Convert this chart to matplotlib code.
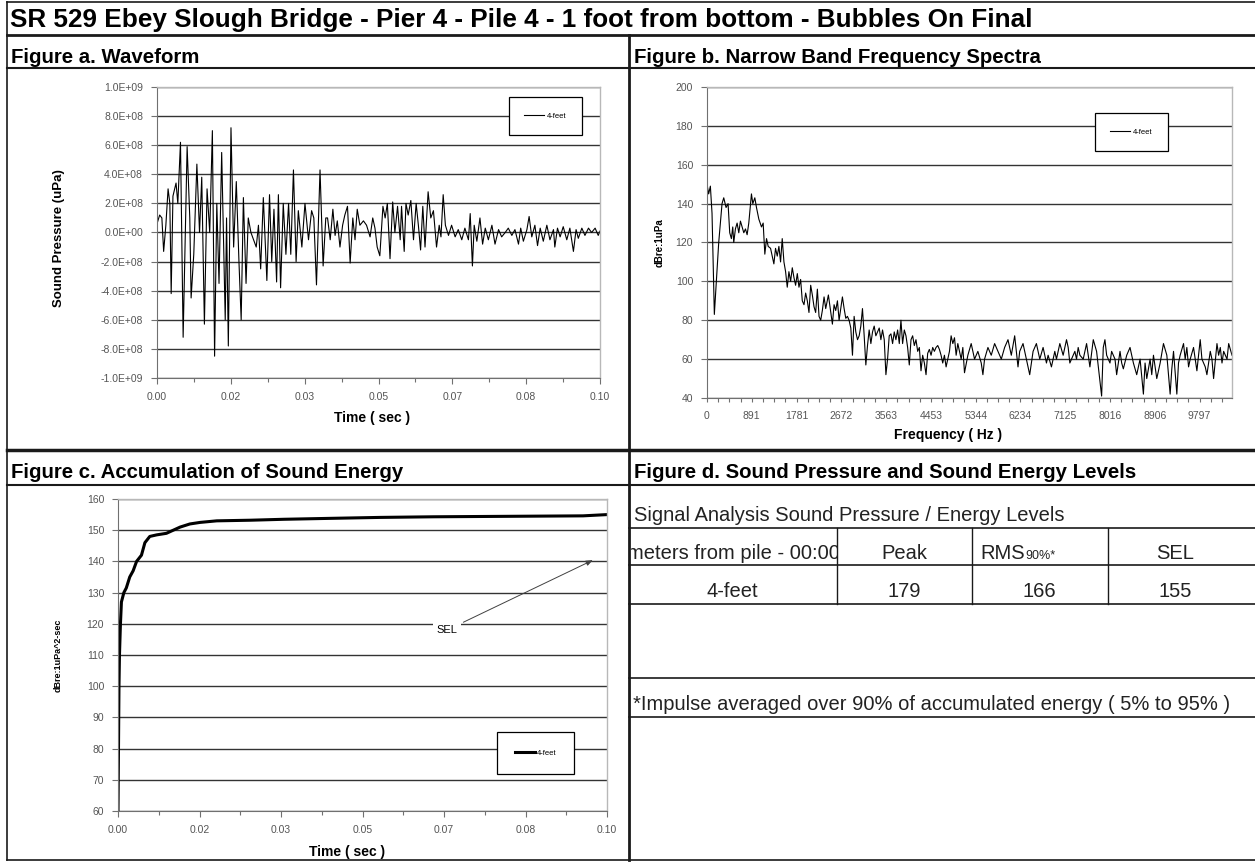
import numpy as np
import matplotlib
matplotlib.use('Agg')
import matplotlib.pyplot as plt
from matplotlib.ticker import FixedLocator, FuncFormatter
from matplotlib.transforms import Bbox

plt.rcParams['font.family'] = ['Liberation Sans', 'DejaVu Sans']

W, H = 1255, 863

title = 'SR 529 Ebey Slough Bridge - Pier 4 - Pile 4 - 1 foot from bottom - Bubbles On Final'
series_name = '4-feet'

# Figure a - waveform (time in s, pressure in 1E8 uPa)
time_a = [0.0000, 0.0006, 0.0011, 0.0015, 0.0020, 0.0025, 0.0029, 0.0032, 0.0036, 0.0043,
          0.0047, 0.0053, 0.0059, 0.0064, 0.0068, 0.0074, 0.0077, 0.0083, 0.0090, 0.0096,
          0.0101, 0.0107, 0.0113, 0.0119, 0.0125, 0.0130, 0.0135, 0.0140, 0.0146, 0.0154,
          0.0157, 0.0161, 0.0167, 0.0173, 0.0179, 0.0185, 0.0190, 0.0195, 0.0201, 0.0206,
          0.0212, 0.0218, 0.0224, 0.0229, 0.0234, 0.0240, 0.0248, 0.0254, 0.0259, 0.0264,
          0.0270, 0.0274, 0.0279, 0.0285, 0.0291, 0.0297, 0.0302, 0.0308, 0.0314, 0.0319,
          0.0327, 0.0334, 0.0342, 0.0349, 0.0354, 0.0360, 0.0368, 0.0375, 0.0381, 0.0385,
          0.0391,
          0.0397, 0.0402, 0.0407, 0.0413, 0.0419, 0.0424, 0.0430, 0.0436, 0.0442, 0.0447,
          0.0452, 0.0458, 0.0466, 0.0473, 0.0481, 0.0487, 0.0492, 0.0497, 0.0503, 0.0510,
          0.0515, 0.0520, 0.0526, 0.0532, 0.0537, 0.0543, 0.0549, 0.0552, 0.0558, 0.0562,
          0.0567, 0.0573, 0.0579, 0.0585, 0.0590, 0.0595, 0.0600, 0.0605, 0.0612, 0.0618,
          0.0624, 0.0631, 0.0637, 0.0641, 0.0646, 0.0651, 0.0658, 0.0665, 0.0673, 0.0680,
          0.0688, 0.0695, 0.0703, 0.0707, 0.0712, 0.0716, 0.0722, 0.0729, 0.0735, 0.0741,
          0.0748, 0.0756, 0.0763, 0.0771, 0.0778, 0.0786, 0.0793, 0.0801, 0.0808, 0.0816,
          0.0821, 0.0827, 0.0835, 0.0840, 0.0846, 0.0853, 0.0859, 0.0865, 0.0872, 0.0880,
          0.0887, 0.0895, 0.0898, 0.0904, 0.0910, 0.0917, 0.0925, 0.0932, 0.0940, 0.0946,
          0.0951, 0.0959, 0.0966, 0.0974, 0.0981, 0.0989, 0.0996, 0.1000]
pressure_a = [0.6, 1.2, 1.0, -1.3, 0.5, 3.0, 2.0, -4.2, 2.5, 3.4,
              2.0, 6.2, -7.2, 0.0, 5.9, 1.0, -4.5, -1.5, 4.7, 0.0,
              3.8, -6.3, 3.0, 0.0, 7.0, -8.5, 2.0, -3.5, 5.5, -6.0,
              1.0, -7.8, 7.2, -1.0, 3.5, -2.0, -6.0, 2.4, -3.5, 1.0,
              0.0, -0.5, -1.0, 0.5, -2.5, 2.4, -3.3, 2.6, -2.0, 1.6,
              -3.4, 2.6, -3.8, 2.0, -1.5, 2.0, -1.5, 4.3, -2.0, 1.5,
              -1.0, 2.0, -0.5, 1.5, 1.0, -3.6, 4.3, -2.3, 1.0, 1.0,
              -0.5,
              1.6, -0.2, 0.8, -1.0, 0.5, 1.2, 1.8, -2.1, 1.0, -0.5,
              1.6, 0.5, 0.8, 0.5, -0.3, 1.0, 0.3, -1.0, -1.6, 1.8,
              1.0, 2.0, -1.8, 2.1, 0.0, 1.8, -0.5, 1.8, -1.3, 2.0,
              1.2, 2.2, -0.5, 2.0, 0.5, -1.2, 1.8, -1.0, 2.8, 1.0,
              1.5, -1.0, 0.5, -0.3, 2.6, 0.5, -0.2, 0.5, -0.3, 0.2,
              -0.5, 0.3, -0.5, 1.3, -2.3, 0.5, -0.6, 1.0, -0.8, 0.3,
              -0.5, 0.5, -0.8, 0.2, -0.3, 0.0, 0.3, -0.2, 0.2, -0.8,
              0.3, -0.6, 0.2, 1.1, -0.3, 0.5, -0.9, 0.3, -0.6, 0.5,
              -0.5, 0.2, -1.0, 0.3, -0.3, 0.4, -0.5, 0.3, -1.3, 0.2,
              -0.4, 0.3, -0.2, 0.3, 0.0, 0.3, -0.2, 0.1]

# Figure b - narrow band spectrum (Hz, dB re 1uPa)
freq_b = [0, 33, 67, 100, 146, 186, 233, 299, 333, 379,
          419, 452, 485, 512, 532, 565, 599, 632, 665, 698,
          732, 765, 798, 831, 884, 911, 951, 984, 1031, 1084,
          1117, 1150, 1184, 1217, 1264, 1297, 1330, 1363, 1397, 1430,
          1463, 1496, 1530, 1563, 1596, 1629, 1663, 1696, 1729, 1762,
          1796, 1829, 1862, 1895, 1929, 1962, 1995, 2028, 2062, 2095,
          2128, 2161, 2195, 2228, 2261, 2294, 2328, 2361, 2414, 2461,
          2494, 2527, 2560, 2594, 2627, 2660, 2693, 2727, 2760, 2793,
          2826, 2860, 2893, 2926, 2959, 2993, 3026, 3059, 3092, 3126,
          3159, 3192, 3225, 3259, 3292, 3325, 3358, 3392, 3425, 3458,
          3491, 3525, 3558, 3591, 3624, 3658, 3691, 3724, 3757, 3791,
          3824, 3857, 3890, 3924, 3957, 3990, 4023, 4057, 4090, 4123,
          4156, 4190, 4223, 4256, 4289, 4323, 4356, 4389, 4422, 4456,
          4489, 4522, 4555, 4589, 4622, 4655, 4688, 4722, 4755, 4788,
          4822, 4855, 4889, 4922, 4955, 4988, 5022, 5055, 5088, 5121,
          5188, 5254, 5321, 5387, 5454, 5487, 5520, 5587, 5653, 5720,
          5786, 5853, 5919, 5986, 6052, 6119, 6185, 6219, 6285, 6352,
          6418, 6485, 6551, 6618, 6684, 6751, 6784, 6850, 6917, 6950,
          7017, 7083, 7150, 7183, 7216, 7283, 7316, 7349, 7382, 7416,
          7482, 7549, 7615, 7682, 7748, 7848, 7881, 7914, 7948, 8014,
          8047, 8114, 8147, 8214, 8247, 8280, 8347, 8413, 8480, 8546,
          8613, 8679, 8712, 8746, 8812, 8845, 8879, 8945, 9012, 9078,
          9145, 9211, 9244, 9278, 9344, 9377, 9410, 9477, 9510, 9543,
          9577, 9610, 9676, 9743, 9809, 9843, 9876, 9909, 9942, 10009,
          10042, 10075, 10142, 10175, 10208, 10242, 10275, 10342, 10375, 10441]
level_b = [150, 145, 149, 135, 83, 100, 120, 140, 143, 138,
           140, 125, 122, 128, 120, 127, 130, 125, 131, 128,
           125, 127, 124, 130, 145, 140, 143, 138, 132, 128,
           130, 114, 122, 118, 117, 113, 109, 117, 113, 118,
           110, 122, 110, 105, 97, 105, 100, 107, 102, 98,
           104, 97, 101, 90, 88, 94, 90, 84, 98, 93,
           87, 84, 96, 82, 80, 85, 92, 86, 93, 84,
           78, 88, 85, 90, 80, 86, 92, 86, 81, 82,
           80, 76, 62, 82, 74, 70, 72, 77, 86, 72,
           57, 67, 75, 68, 74, 77, 72, 74, 76, 70,
           75, 70, 52, 60, 72, 73, 68, 74, 70, 75,
           68, 80, 68, 75, 72, 66, 57, 70, 72, 67,
           70, 64, 66, 54, 62, 58, 52, 63, 65, 62,
           66, 64, 66, 67, 65, 62, 58, 62, 56, 60,
           64, 72, 68, 71, 62, 68, 64, 60, 66, 53,
           62, 68, 60, 64, 58, 52, 60, 66, 62, 68,
           64, 60, 66, 70, 62, 72, 56, 64, 68, 60,
           52, 64, 68, 60, 66, 58, 62, 56, 64, 60,
           68, 62, 70, 66, 58, 62, 64, 60, 66, 62,
           60, 68, 56, 70, 64, 41, 66, 70, 62, 58,
           64, 60, 52, 64, 58, 55, 62, 66, 58, 52,
           60, 42, 58, 50, 60, 52, 62, 50, 58, 68,
           62, 42, 55, 64, 42, 58, 62, 68, 60, 66,
           56, 60, 66, 54, 70, 60, 58, 56, 52, 64,
           60, 50, 68, 62, 66, 58, 64, 60, 68, 62]
freq_ticks = [0, 891, 1781, 2672, 3563, 4453, 5344, 6234, 7125, 8016, 8906, 9797]

# Figure c - accumulated sound energy
time_c = [0.0, 0.0001, 0.0002, 0.0003, 0.0005, 0.0007, 0.0012, 0.0017, 0.0024, 0.0031,
          0.0038, 0.0048, 0.0055, 0.0065, 0.0079, 0.0099, 0.0113, 0.0127, 0.0147, 0.0168,
          0.0202, 0.0271, 0.0339, 0.0435, 0.0536, 0.0645, 0.0951, 0.1000]
sel_c = [60, 80, 100, 110, 120, 127, 130, 131.5, 135, 137,
         140, 142, 146, 148, 148.5, 149, 150, 151, 152, 152.5,
         153, 153.2, 153.5, 153.8, 154.1, 154.3, 154.6, 155]

# Figure d - table
table_head = ['meters from pile - 00:00', 'Peak', 'RMS', 'SEL']
table_row = ['4-feet', '179', '166', '155']

time_ticks = [0, 1 / 60, 2 / 60, 3 / 60, 4 / 60, 5 / 60, 6 / 60]


def px_axes(fig, x0, y0, x1, y1):
    return fig.add_axes([x0 / W, 1 - y1 / H, (x1 - x0) / W, (y1 - y0) / H])


def excel_style(ax):
    ax.set_facecolor('white')
    for side in ['top', 'right']:
        ax.spines[side].set_color('#b8b8b8')
        ax.spines[side].set_linewidth(1.0)
    ax.spines['left'].set_color('#707070')
    ax.spines['bottom'].set_color('#707070')
    ax.tick_params(axis='both', which='both', direction='out', length=4, width=0.8,
                   color='#707070', labelsize=7.5, labelcolor='#555555', pad=6)
    ax.tick_params(axis='x', which='minor', length=3)
    ax.grid(axis='y', color='#333333', linewidth=1.0)
    ax.set_axisbelow(True)


fig = plt.figure(figsize=(W / 100, H / 100), dpi=100)

# frame / background layer in pixel coordinates
bg = fig.add_axes([0, 0, 1, 1])
bg.set_xlim(0, W)
bg.set_ylim(H, 0)
bg.axis('off')

lc = '#1a1a1a'
bg.plot([7, W], [2, 2], color=lc, lw=1.2)
bg.plot([7, 7], [2, 860], color=lc, lw=1.2)
bg.plot([7, W], [860, 860], color=lc, lw=1.2)
bg.plot([7, W], [35, 35], color=lc, lw=2.0)
bg.plot([7, W], [68, 68], color=lc, lw=1.5)
bg.plot([7, W], [450, 450], color=lc, lw=2.5)
bg.plot([7, W], [485, 485], color=lc, lw=1.5)
bg.plot([629, 629], [35, 860], color=lc, lw=2.0)

bg.text(10, 27, title, fontsize=18.8, fontweight='bold', va='baseline', ha='left')
bg.text(11, 63, 'Figure a. Waveform', fontsize=14.7, fontweight='bold', va='baseline')
bg.text(634, 63, 'Figure b. Narrow Band Frequency Spectra', fontsize=14.7, fontweight='bold',
        va='baseline')
bg.text(11, 478, 'Figure c. Accumulation of Sound Energy', fontsize=14.7, fontweight='bold',
        va='baseline')
bg.text(634, 478, 'Figure d. Sound Pressure and Sound Energy Levels', fontsize=14.7,
        fontweight='bold', va='baseline')

# Figure a
ax_a = px_axes(fig, 157, 87, 600, 378)
excel_style(ax_a)
ax_a.plot(time_a, np.array(pressure_a) * 1e8, color='black', lw=0.8, label=series_name)
ax_a.set_xlim(0, 0.1)
ax_a.set_ylim(-1e9, 1e9)
ax_a.set_yticks(np.arange(-1e9, 1.01e9, 2e8))
ax_a.yaxis.set_major_formatter(FuncFormatter(lambda v, p: f'{v:.1E}'))
ax_a.xaxis.set_major_locator(FixedLocator(time_ticks))
ax_a.xaxis.set_minor_locator(FixedLocator([t + 1 / 120 for t in time_ticks[:-1]]))
ax_a.xaxis.set_major_formatter(FuncFormatter(lambda v, p: f'{v:.2f}'))
ax_a.set_xlabel('Time ( sec )', fontsize=10, fontweight='bold')
ax_a.xaxis.set_label_coords(0.485, -0.115)
ax_a.set_ylabel('Sound Pressure (uPa)', fontsize=9.5, fontweight='bold')
ax_a.yaxis.set_label_coords(-0.208, 0.48)
leg = ax_a.legend(loc='center', bbox_to_anchor=(0.877, 0.9), fontsize=5.5, frameon=True,
                  fancybox=False, edgecolor='black', framealpha=1, borderpad=2.0,
                  handlelength=2.6, handletextpad=0.4)
leg.get_frame().set_linewidth(0.9)

# Figure b
ax_b = px_axes(fig, 707, 87, 1232, 398)
excel_style(ax_b)
ax_b.plot(freq_b, level_b, color='black', lw=0.8, label=series_name)
ax_b.set_xlim(0, 10441)
ax_b.set_ylim(40, 200)
ax_b.set_yticks(np.arange(40, 201, 20))
ax_b.xaxis.set_major_locator(FixedLocator(freq_ticks))
ax_b.xaxis.set_minor_locator(FixedLocator([f + d for f in freq_ticks for d in (223, 445, 668)]))
ax_b.set_xticklabels([str(f) for f in freq_ticks])
ax_b.tick_params(axis='x', which='major', length=3)
ax_b.tick_params(axis='x', which='minor', length=3)
ax_b.set_xlabel('Frequency ( Hz )', fontsize=10, fontweight='bold')
ax_b.xaxis.set_label_coords(0.46, -0.098)
ax_b.set_ylabel('dBre:1uPa', fontsize=7, fontweight='bold')
ax_b.yaxis.set_label_coords(-0.08, 0.5)
leg = ax_b.legend(loc='center', bbox_to_anchor=(0.809, 0.855), fontsize=5.5, frameon=True,
                  fancybox=False, edgecolor='black', framealpha=1, borderpad=2.0,
                  handlelength=2.6, handletextpad=0.4)
leg.get_frame().set_linewidth(0.9)

# Figure c
ax_c = px_axes(fig, 118, 499, 607, 811)
excel_style(ax_c)
ax_c.plot(time_c, sel_c, color='black', lw=2.2, label=series_name)
ax_c.set_xlim(0, 0.1)
ax_c.set_ylim(60, 160)
ax_c.set_yticks(np.arange(60, 161, 10))
ax_c.xaxis.set_major_locator(FixedLocator(time_ticks))
ax_c.xaxis.set_minor_locator(FixedLocator([t + 1 / 120 for t in time_ticks[:-1]]))
ax_c.xaxis.set_major_formatter(FuncFormatter(lambda v, p: f'{v:.2f}'))
ax_c.set_xlabel('Time ( sec )', fontsize=10, fontweight='bold')
ax_c.xaxis.set_label_coords(0.468, -0.108)
ax_c.set_ylabel('dBre:1uPa^2-sec', fontsize=6.5, fontweight='bold')
ax_c.yaxis.set_label_coords(-0.114, 0.5)
ax_c.annotate('SEL', xy=(0.0971, 140.4), xytext=(0.0673, 118), fontsize=8,
              ha='center', va='center',
              bbox=dict(boxstyle='square,pad=0.3', fc='white', ec='none'),
              arrowprops=dict(arrowstyle='-|>,head_length=0.5,head_width=0.2',
                              color='#404040', lw=0.7, shrinkA=2, shrinkB=0))
leg = ax_c.legend(loc='center', bbox_to_anchor=(0.854, 0.186), fontsize=5.5, frameon=True,
                  fancybox=False, edgecolor='black', framealpha=1, borderpad=2.3,
                  handlelength=2.6, handletextpad=0.3)
leg.get_frame().set_linewidth(0.9)

# Figure d - table drawn on the background layer
tc = '#222222'
fs = 14.5
row_lines = [528, 565, 604, 678, 717]
bg.text(634, 521, 'Signal Analysis Sound Pressure / Energy Levels', fontsize=fs,
        va='baseline', color=tc)
for yy in row_lines:
    bg.plot([629, W], [yy, yy], color=lc, lw=1.2)
col_lines = [837, 972, 1108]
for xx in col_lines:
    bg.plot([xx, xx], [row_lines[0], row_lines[2]], color=lc, lw=1.0)
col_centers = [732, 904, 1039, 1175]
head_y, data_y = 559, 597
head0 = bg.text(627, head_y, table_head[0], fontsize=fs, va='baseline', ha='left', color=tc)
head0.set_clip_box(Bbox([[631, H - row_lines[1]], [col_lines[0], H - row_lines[0]]]))
head0.set_clip_on(True)
bg.text(col_centers[1], head_y, table_head[1], fontsize=fs, va='baseline', ha='center',
        color=tc)
bg.text(col_centers[2] - 14, head_y, table_head[2], fontsize=fs, va='baseline', ha='right',
        color=tc)
bg.text(col_centers[2] - 14, head_y, '90%*', fontsize=9, va='baseline', ha='left', color=tc)
bg.text(col_centers[3], head_y, table_head[3], fontsize=fs, va='baseline', ha='center',
        color=tc)
for cx, val in zip(col_centers, table_row):
    bg.text(cx, data_y, val, fontsize=fs, va='baseline', ha='center', color=tc)
bg.text(633, 710, '*Impulse averaged over 90% of accumulated energy ( 5% to 95% )',
        fontsize=fs, va='baseline', ha='left', color=tc)

fig.savefig('out.png', dpi=100)
